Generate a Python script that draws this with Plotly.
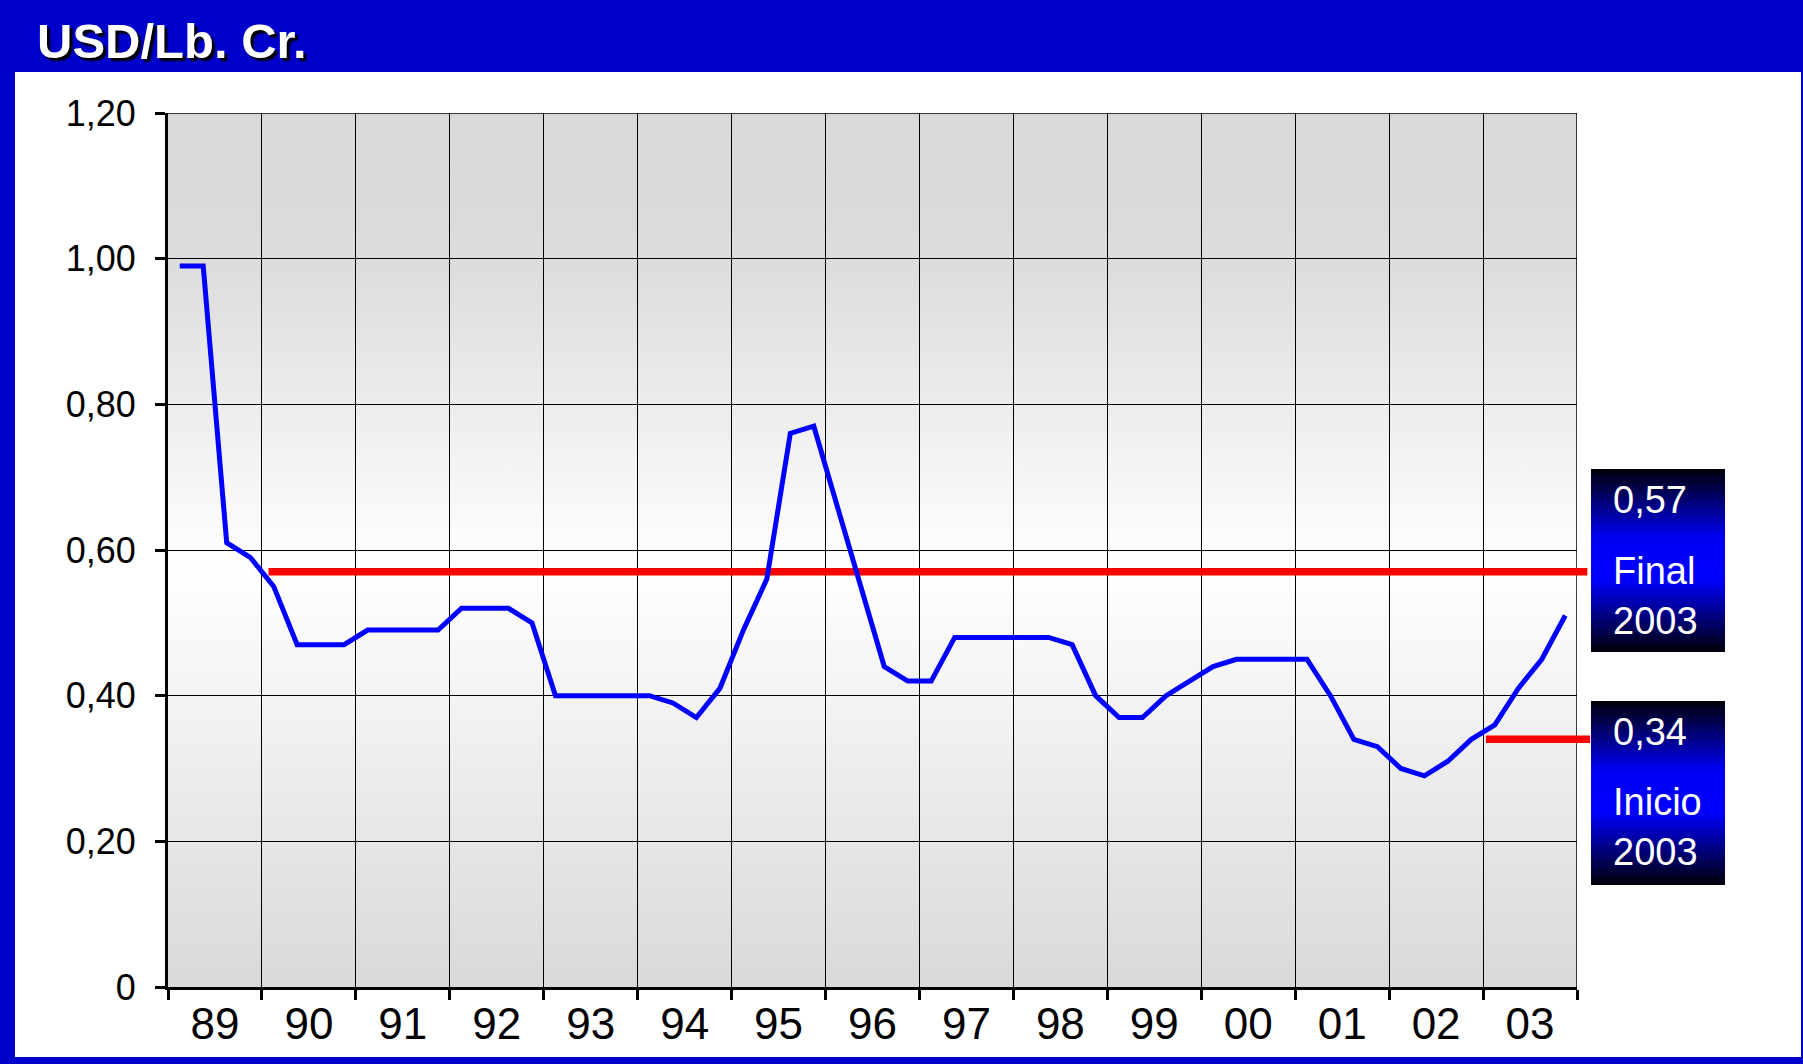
import base64
import plotly.graph_objects as go

# ---------------- data ----------------
years = list(range(1989, 2004))
year_labels = ["89", "90", "91", "92", "93", "94", "95", "96", "97", "98", "99", "00", "01", "02", "03"]
quarters = [1, 2, 3, 4]
# quarterly price, USD per lb
price = [
    0.99, 0.99, 0.61, 0.59,   # 89
    0.55, 0.47, 0.47, 0.47,   # 90
    0.49, 0.49, 0.49, 0.49,   # 91
    0.52, 0.52, 0.52, 0.50,   # 92
    0.40, 0.40, 0.40, 0.40,   # 93
    0.40, 0.39, 0.37, 0.41,   # 94
    0.49, 0.56, 0.76, 0.77,   # 95
    0.66, 0.55, 0.44, 0.42,   # 96
    0.42, 0.48, 0.48, 0.48,   # 97
    0.48, 0.48, 0.47, 0.40,   # 98
    0.37, 0.37, 0.40, 0.42,   # 99
    0.44, 0.45, 0.45, 0.45,   # 00
    0.45, 0.40, 0.34, 0.33,   # 01
    0.30, 0.29, 0.31, 0.34,   # 02
    0.36, 0.41, 0.45, 0.51,   # 03
]
final_x = [1990.07, 2004.11]
final_y = [0.57, 0.57]
inicio_x = [2003.03, 2004.14]
inicio_y = [0.34, 0.34]
y_tickvals = [0, 0.2, 0.4, 0.6, 0.8, 1.0, 1.2]
y_ticktext = ["0", "0,20", "0,40", "0,60", "0,80", "1,00", "1,20"]
box_final = ["0,57", "Final", "2003"]
box_inicio = ["0,34", "Inicio", "2003"]
title_text = "USD/Lb. Cr."

# quarter positions on a fractional-year axis
qx = [y + (q - 0.5) / 4 for y in years for q in quarters]
year_centers = [y + 0.5 for y in years]

# ---------------- layout geometry (pixels) ----------------
W, H = 1803, 1064
L, R, T, B = 168, 1577, 113, 987
R3 = 1600

def px(x):
    return x / W

def py(y):
    return 1 - y / H

FONT = "Liberation Sans, Arial, sans-serif"


def svg_uri(svg):
    return "data:image/svg+xml;base64," + base64.b64encode(svg.encode()).decode()

bg_svg = (
    "<svg xmlns='http://www.w3.org/2000/svg' width='100' height='100' viewBox='0 0 100 100' preserveAspectRatio='none'>"
    "<defs><linearGradient id='g' x1='0' y1='0' x2='0' y2='1'>"
    "<stop offset='0' stop-color='#d9d9d9'/><stop offset='0.17' stop-color='#dcdcdc'/>"
    "<stop offset='0.52' stop-color='#ffffff'/><stop offset='1' stop-color='#d9d9d9'/>"
    "</linearGradient></defs><rect width='100' height='100' fill='url(#g)'/></svg>"
)
box_svg = (
    "<svg xmlns='http://www.w3.org/2000/svg' width='100' height='100' viewBox='0 0 100 100' preserveAspectRatio='none'>"
    "<defs><linearGradient id='g' x1='0' y1='0' x2='0' y2='1'>"
    "<stop offset='0' stop-color='#000008'/><stop offset='0.38' stop-color='#0000f5'/>"
    "<stop offset='0.6' stop-color='#0000ff'/><stop offset='1' stop-color='#000008'/>"
    "</linearGradient></defs><rect width='100' height='100' fill='url(#g)'/></svg>"
)

fig = go.Figure()
fig.add_trace(go.Scatter(x=final_x, y=final_y, mode="lines", xaxis="x3", yaxis="y3",
                         line=dict(color="#ff0000", width=7.5), hoverinfo="skip", showlegend=False))
fig.add_trace(go.Scatter(x=inicio_x, y=inicio_y, mode="lines", xaxis="x3", yaxis="y3",
                         line=dict(color="#ff0000", width=7.5), hoverinfo="skip", showlegend=False))
fig.add_trace(go.Scatter(x=qx, y=price, mode="lines", xaxis="x3", yaxis="y3",
                         line=dict(color="#0000ff", width=5), showlegend=False))

xdom = [px(L), px(R)]
ydom = [py(B), py(T)]

fig.update_layout(
    width=W, height=H, autosize=False,
    margin=dict(l=0, r=0, t=0, b=0, pad=0, autoexpand=False),
    paper_bgcolor="white", plot_bgcolor="rgba(0,0,0,0)",
    showlegend=False,
    xaxis=dict(
        domain=xdom, range=[1989, 2004], type="linear", automargin=False,
        tickvals=year_centers, ticktext=year_labels,
        ticks="outside", ticklen=10, tickcolor="rgba(0,0,0,0)",
        tickfont=dict(family=FONT, size=44, color="black"),
        ticklabelstandoff=-14,
        showgrid=False, zeroline=False,
        showline=True, linecolor="black", linewidth=3,
        minor=dict(tick0=1989, dtick=1, ticks="outside", ticklen=10, tickwidth=3,
                   tickcolor="black", showgrid=True, gridcolor="black", gridwidth=1),
        fixedrange=True,
    ),
    yaxis=dict(
        domain=ydom, range=[0, 1.2], automargin=False,
        tickvals=y_tickvals, ticktext=y_ticktext,
        ticks="outside", ticklen=10, tickwidth=3, tickcolor="black",
        tickfont=dict(family=FONT, size=36, color="black"),
        ticklabelstandoff=12,
        showgrid=True, gridcolor="black", gridwidth=1, zeroline=False,
        showline=True, linecolor="black", linewidth=3,
        fixedrange=True,
    ),
    xaxis3=dict(domain=[px(L), px(R3)], range=[1989, 1989 + 15 * (R3 - L) / (R - L)],
                visible=False, anchor="y3", fixedrange=True, automargin=False),
    yaxis3=dict(domain=ydom, range=[0, 1.2], visible=False, anchor="x3", fixedrange=True,
                automargin=False),
)

# right / top frame of the plot area
fig.add_shape(type="line", xref="x", yref="y domain", x0=2004, x1=2004, y0=0, y1=1,
              line=dict(color="black", width=1.5), layer="below")
fig.add_shape(type="line", xref="x domain", yref="y", x0=0, x1=1, y0=1.2, y1=1.2,
              line=dict(color="black", width=1.5), layer="below")

# outer blue frame
BLUE = "#0000cc"
fig.add_shape(type="rect", xref="paper", yref="paper", x0=0, x1=1, y0=py(72), y1=1,
              fillcolor=BLUE, line=dict(width=0), layer="below")
fig.add_shape(type="rect", xref="paper", yref="paper", x0=0, x1=px(15), y0=0, y1=1,
              fillcolor=BLUE, line=dict(width=0), layer="below")
fig.add_shape(type="rect", xref="paper", yref="paper", x0=0, x1=1, y0=0, y1=py(1057),
              fillcolor=BLUE, line=dict(width=0), layer="below")
fig.add_shape(type="rect", xref="paper", yref="paper", x0=px(1801), x1=1, y0=0, y1=1,
              fillcolor=BLUE, line=dict(width=0), layer="below")

images = [
    dict(source=svg_uri(bg_svg), xref="paper", yref="paper", x=px(L), y=py(T),
         sizex=(R - L) / W, sizey=(B - T) / H, xanchor="left", yanchor="top",
         sizing="stretch", layer="below"),
    dict(source=svg_uri(box_svg), xref="paper", yref="paper", x=px(1591), y=py(469),
         sizex=134 / W, sizey=183 / H, xanchor="left", yanchor="top",
         sizing="stretch", layer="above"),
    dict(source=svg_uri(box_svg), xref="paper", yref="paper", x=px(1591), y=py(701),
         sizex=134 / W, sizey=184 / H, xanchor="left", yanchor="top",
         sizing="stretch", layer="above"),
]
fig.update_layout(images=images)

# title
fig.add_annotation(text=title_text, xref="paper", yref="paper", x=px(35), y=py(41),
                   xanchor="left", yanchor="middle", showarrow=False,
                   font=dict(family=FONT, size=49, color="white", weight="bold",
                             shadow="3px 3px 2px #000000"))

# box labels
for texts, ys in ((box_final, (500, 571, 621)), (box_inicio, (732, 802, 852))):
    for t, yc in zip(texts, ys):
        fig.add_annotation(text=t, xref="paper", yref="paper", x=px(1611), y=py(yc),
                           xanchor="left", yanchor="middle", showarrow=False,
                           font=dict(family=FONT, size=38, color="white"))

fig.write_html("out.html", config={"displayModeBar": False},
               post_script="document.body.style.margin='0';document.body.style.overflow='hidden';")
